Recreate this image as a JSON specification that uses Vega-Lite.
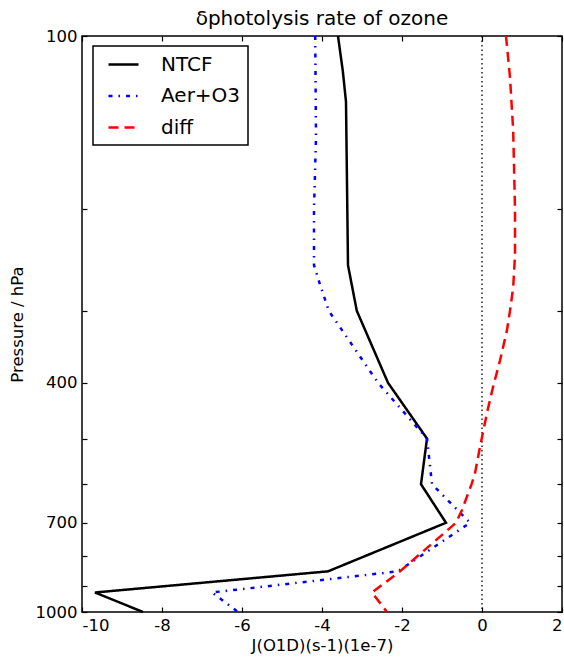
{
  "$schema": "https://vega.github.io/schema/vega-lite/v6.json",
  "width": 480,
  "height": 576,
  "autosize": {"type": "none"},
  "padding": {"left": 82, "top": 36, "right": 2, "bottom": 46},
  "background": "white",
  "title": {"text": "δphotolysis rate of ozone", "font": "DejaVu Sans", "fontSize": 20, "fontWeight": "normal", "color": "black", "anchor": "middle", "frame": "group", "offset": -1},
  "data": {"values": [
    {"s": "NTCF", "p": 100, "v": -3.6},
    {"s": "NTCF", "p": 115, "v": -3.48},
    {"s": "NTCF", "p": 130, "v": -3.4},
    {"s": "NTCF", "p": 250, "v": -3.35},
    {"s": "NTCF", "p": 300, "v": -3.13},
    {"s": "NTCF", "p": 400, "v": -2.35},
    {"s": "NTCF", "p": 500, "v": -1.375},
    {"s": "NTCF", "p": 600, "v": -1.525},
    {"s": "NTCF", "p": 700, "v": -0.9},
    {"s": "NTCF", "p": 850, "v": -3.85},
    {"s": "NTCF", "p": 925, "v": -9.675},
    {"s": "NTCF", "p": 1000, "v": -8.475},
    {"s": "Aer+O3", "p": 100, "v": -4.17},
    {"s": "Aer+O3", "p": 150, "v": -4.15},
    {"s": "Aer+O3", "p": 200, "v": -4.2},
    {"s": "Aer+O3", "p": 250, "v": -4.2},
    {"s": "Aer+O3", "p": 270, "v": -4.05},
    {"s": "Aer+O3", "p": 300, "v": -3.83},
    {"s": "Aer+O3", "p": 400, "v": -2.6},
    {"s": "Aer+O3", "p": 500, "v": -1.375},
    {"s": "Aer+O3", "p": 600, "v": -1.25},
    {"s": "Aer+O3", "p": 700, "v": -0.3},
    {"s": "Aer+O3", "p": 850, "v": -2.1},
    {"s": "Aer+O3", "p": 925, "v": -6.75},
    {"s": "Aer+O3", "p": 1000, "v": -6.1},
    {"s": "diff", "p": 100, "v": 0.6},
    {"s": "diff", "p": 118, "v": 0.7},
    {"s": "diff", "p": 146, "v": 0.78},
    {"s": "diff", "p": 200, "v": 0.825},
    {"s": "diff", "p": 240, "v": 0.825},
    {"s": "diff", "p": 273, "v": 0.78},
    {"s": "diff", "p": 300, "v": 0.7},
    {"s": "diff", "p": 324, "v": 0.625},
    {"s": "diff", "p": 366, "v": 0.45},
    {"s": "diff", "p": 407, "v": 0.275},
    {"s": "diff", "p": 451, "v": 0.125},
    {"s": "diff", "p": 517, "v": -0.05},
    {"s": "diff", "p": 574, "v": -0.175},
    {"s": "diff", "p": 600, "v": -0.26},
    {"s": "diff", "p": 665, "v": -0.5},
    {"s": "diff", "p": 700, "v": -0.65},
    {"s": "diff", "p": 850, "v": -2.05},
    {"s": "diff", "p": 925, "v": -2.75},
    {"s": "diff", "p": 1000, "v": -2.375}
  ]},
  "layer": [
    {
      "data": {"values": [{"zero": 0}]},
      "mark": {"type": "rule", "color": "black", "strokeWidth": 1.3, "strokeDash": [1.5, 3]},
      "encoding": {
        "x": {"field": "zero", "type": "quantitative",
          "scale": {"domain": [-10, 2], "nice": false, "zero": false},
          "axis": {"orient": "top", "values": [-10, -8, -6, -4, -2, 0, 2], "labels": false, "title": null}}
      }
    },
    {
      "mark": {"type": "line", "strokeWidth": 2.5},
      "encoding": {
        "x": {"field": "v", "type": "quantitative",
          "scale": {"domain": [-10, 2], "nice": false, "zero": false},
          "axis": {"orient": "bottom", "values": [-10, -8, -6, -4, -2, 0, 2], "labelExpr": "'' + datum.value", "labelPadding": 10, "title": "J(O1D)(s-1)(1e-7)", "titlePadding": 4}},
        "y": {"field": "p", "type": "quantitative",
          "scale": {"type": "log", "domain": [100, 1000], "reverse": true, "nice": false},
          "axis": {"orient": "left", "values": [100, 200, 300, 400, 500, 600, 700, 800, 900, 1000], "labelExpr": "(datum.value == 100 || datum.value == 400 || datum.value == 700 || datum.value == 1000) ? '' + datum.value : ''", "labelPadding": 10, "title": "Pressure / hPa", "titlePadding": 10}},
        "color": {"field": "s", "type": "nominal",
          "scale": {"domain": ["NTCF", "Aer+O3", "diff"], "range": ["#000000", "#0000ff", "#ff0000"]},
          "legend": {"title": null}},
        "strokeDash": {"field": "s", "type": "nominal",
          "scale": {"domain": ["NTCF", "Aer+O3", "diff"], "range": [[1, 0], [4, 6, 1.5, 6], [10, 6]]},
          "legend": {"title": null}},
        "order": {"field": "p", "type": "quantitative"}
      }
    },
    {
      "mark": {"type": "point", "opacity": 0},
      "encoding": {
        "x": {"field": "v", "type": "quantitative", "scale": {"domain": [-10, 2], "nice": false, "zero": false}, "axis": null},
        "y": {"field": "p", "type": "quantitative",
          "scale": {"type": "log", "domain": [100, 1000], "reverse": true, "nice": false},
          "axis": {"orient": "right", "values": [100, 200, 300, 400, 500, 600, 700, 800, 900, 1000], "labels": false, "title": null}}
      }
    }
  ],
  "resolve": {"axis": {"x": "independent", "y": "independent"}},
  "config": {
    "view": {"stroke": "black", "strokeWidth": 1.5},
    "axis": {"domain": false, "grid": false, "tickColor": "black", "tickSize": -5, "tickWidth": 1.2,
      "labelFont": "DejaVu Sans", "labelFontSize": 16.5, "labelColor": "black",
      "titleFont": "DejaVu Sans", "titleFontSize": 16.5, "titleFontWeight": "normal", "titleColor": "black"},
    "legend": {"orient": "none", "legendX": 11, "legendY": 10, "padding": 7,
      "strokeColor": "black", "strokeWidth": 1.5, "fillColor": "white",
      "labelFont": "DejaVu Sans", "labelFontSize": 20, "labelColor": "black", "labelOffset": 38,
      "symbolType": "M-0.3,0H2.7", "symbolSize": 400, "symbolStrokeWidth": 2.5, "rowPadding": 9.5}
  }
}
